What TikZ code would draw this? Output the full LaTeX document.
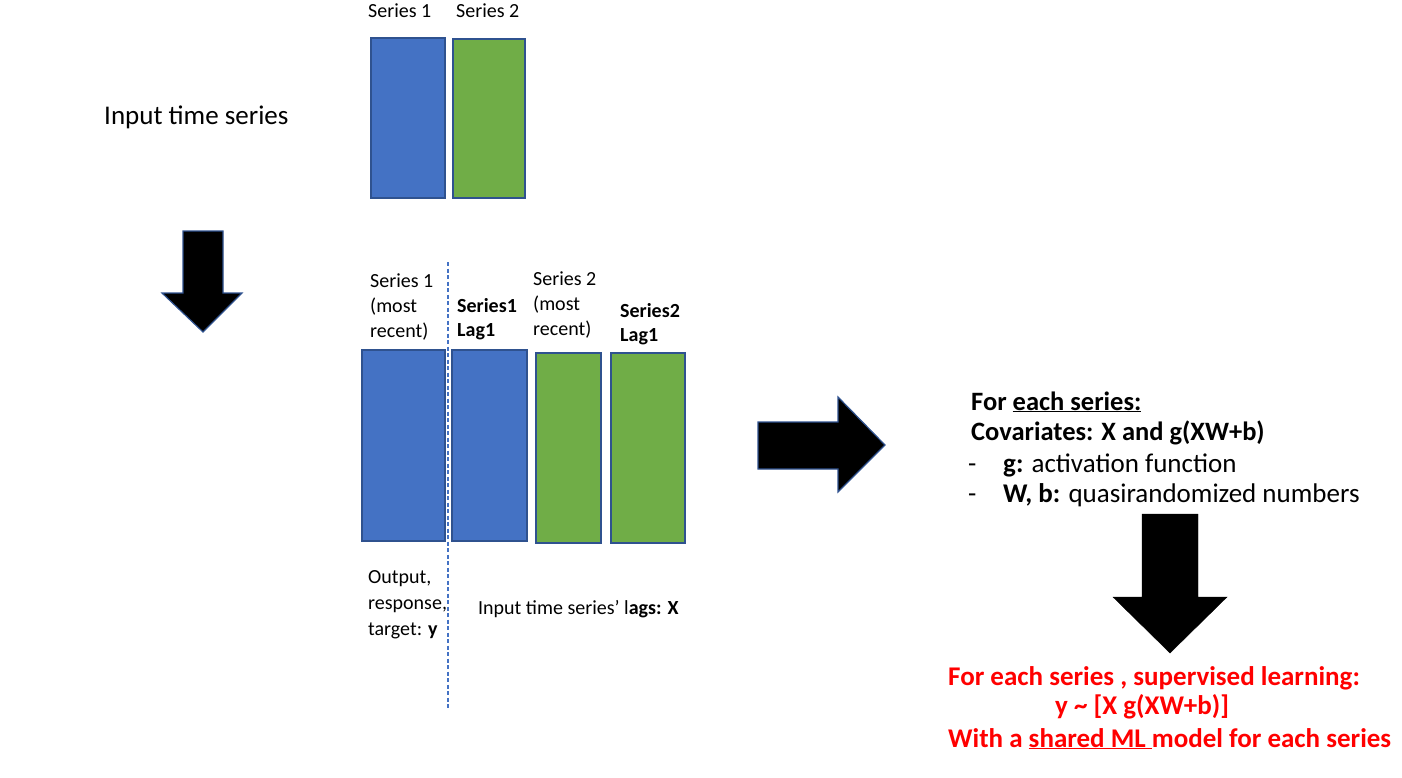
\documentclass[tikz,border=0pt]{standalone}
\usepackage{fontspec}
\setmainfont{Carlito}
\usepackage{xcolor}
\usepackage{tikz}
\usetikzlibrary{positioning}

\definecolor{serblue}{HTML}{4472C4}
\definecolor{sergreen}{HTML}{70AD47}
\definecolor{edgeblue}{HTML}{2F528F}

\begin{document}
\begin{tikzpicture}[
    x=1pt, y=-1pt,
    bar/.style={draw=edgeblue, line width=1.8pt},
    lbl/.style={font=\fontsize{20}{25}\selectfont, align=left, inner sep=0pt, anchor=base west},
    big/.style={font=\fontsize{27}{31}\selectfont, inner sep=0pt, anchor=base west},
    note/.style={font=\fontsize{27}{31}\selectfont, inner sep=0pt, anchor=base west},
    redline/.style={font=\bfseries\fontsize{27}{31}\selectfont, text=red, inner sep=0pt, anchor=base west},
    blockarrow/.style={fill=black, draw=edgeblue, line width=1.2pt, line join=miter}
]
\useasboundingbox (0,0) rectangle (1402,778);

% input series
\node[big] (input) at (104,125) {Input time series};
\node[lbl] (s1) at (368,18) {Series 1};
\node[lbl] (s2) at (456,18) {Series 2};
\draw[bar, fill=serblue] (371,38) rectangle (445,198);
\draw[bar, fill=sergreen] (453,39) rectangle (525,198);

% down arrow
\draw[blockarrow] (183,231) -- (223,231) -- (223,293) -- (242,293) -- (203,332)
    -- (162,293) -- (183,293) -- cycle;

% lagged series
\draw[bar, fill=serblue] (362,350) rectangle (445,541);
\draw[bar, fill=serblue] (452,350) rectangle (527,541);
\draw[bar, fill=sergreen] (536,353) rectangle (601,543);
\draw[bar, fill=sergreen] (611,353) rectangle (685,543);
\draw[serblue, line width=1.5pt, dash pattern=on 4pt off 2.5pt] (448,262) -- (448,708);

\node[lbl] (recent1) at (370,337) {Series 1\\(most\\recent)};
\node[lbl, font=\bfseries\fontsize{20}{24}\selectfont] (lag1) at (457,336) {Series1\\Lag1};
\node[lbl] (recent2) at (533,335) {Series 2\\(most\\recent)};
\node[lbl, font=\bfseries\fontsize{20}{24}\selectfont] (lag2) at (620,341) {Series2\\Lag1};

\node[lbl, font=\fontsize{20}{26}\selectfont] (target) at (368,635) {Output,\\response,\\target: \textbf{y}};
\node[lbl] (lags) at (478,614) {Input time series’ l\textbf{ags: X}};

% right arrow
\draw[blockarrow] (758,422) -- (838,422) -- (838,397) -- (885,445) -- (838,492)
    -- (838,469) -- (758,469) -- cycle;

% covariates
\node[note, font=\bfseries\fontsize{26.5}{31}\selectfont] (each) at (971,410) {For \underline{each series:}};
\node[note, font=\bfseries\fontsize{26.5}{31}\selectfont] (cov) at (971,440) {Covariates: X and g(XW+b)};
\node[note] (dash1) at (968,472) {-};
\node[note] (act) at (1003,472) {\textbf{g:} activation function};
\node[note] (dash2) at (968,502) {-};
\node[note] (quasi) at (1003,502) {\textbf{W, b:} quasirandomized numbers};

% down arrow 2
\draw[fill=black, line join=miter] (1142,514) -- (1198,514) -- (1198,597) -- (1227,597)
    -- (1170,653) -- (1113,597) -- (1142,597) -- cycle;

% supervised learning
\node[redline] (learn) at (948,685) {For each series , supervised learning:};
\node[redline] (model) at (1055,714) {y \textasciitilde{} [X g(XW+b)]};
\node[redline] (shared) at (948,747) {With a \underline{shared ML }model for each series};
\end{tikzpicture}
\end{document}
